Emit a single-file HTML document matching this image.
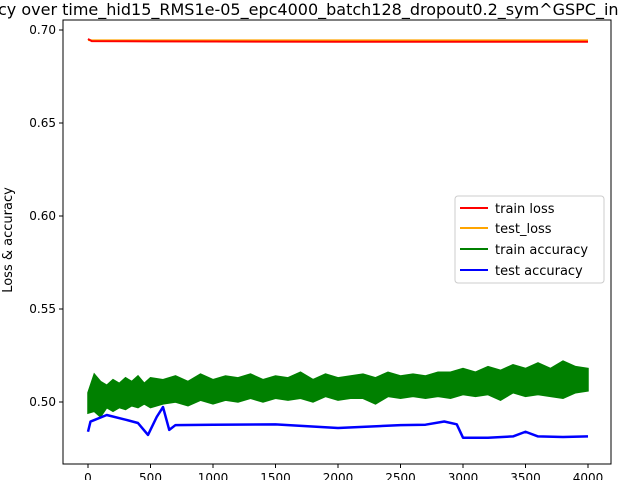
<!DOCTYPE html>
<html><head><meta charset="utf-8"><style>
body{margin:0;background:#fff;}
svg{display:block;font-family:"DejaVu Sans","Liberation Sans",sans-serif;}
</style></head><body>
<svg id="chart" width="640" height="480" viewBox="0 0 640 480" xmlns="http://www.w3.org/2000/svg">
<text x="-2" y="15" font-size="16" fill="#000">cy over time_hid15_RMS1e-05_epc4000_batch128_dropout0.2_sym^GSPC_in</text>
<text transform="translate(12,240) rotate(-90)" text-anchor="middle" font-size="13">Loss &amp; accuracy</text>
<g id="plot"></g>
<rect x="63" y="20" width="548" height="444" fill="none" stroke="#000" stroke-width="1"/>
<g id="axes"></g>
<g>
<rect x="455" y="196" width="149" height="87" rx="3" fill="#fff" fill-opacity="0.8" stroke="#ccc"/>
<line x1="460" y1="208" x2="488" y2="208" stroke="red" stroke-width="2"/><text x="495" y="213" font-size="13">train loss</text>
<line x1="460" y1="228" x2="488" y2="228" stroke="orange" stroke-width="2"/><text x="495" y="233" font-size="13">test_loss</text>
<line x1="460" y1="249" x2="488" y2="249" stroke="green" stroke-width="2"/><text x="495" y="254" font-size="13">train accuracy</text>
<line x1="460" y1="270" x2="488" y2="270" stroke="blue" stroke-width="2"/><text x="495" y="275" font-size="13">test  accuracy</text>
</g>
</svg>
<script>
const xTicks=[0,500,1000,1500,2000,2500,3000,3500,4000];
const yTicks=[0.50,0.55,0.60,0.65,0.70];
const lossEpochs=[0,30,500,1000,2000,3000,4000];
const trainLoss=[0.6952,0.6940,0.6939,0.6938,0.6937,0.6937,0.6937];
const testLoss=[0.6946,0.6944,0.6944,0.6944,0.6944,0.6944,0.6944];
const accEpochs=[0,50,100,150,200,250,300,350,400,450,500,600,700,800,900,1000,1100,1200,1300,1400,1500,1600,1700,1800,1900,2000,2100,2200,2300,2400,2500,2600,2700,2800,2900,3000,3100,3200,3300,3400,3500,3600,3700,3800,3900,4000];
const trainAccHigh=[0.505,0.515,0.511,0.509,0.512,0.510,0.513,0.511,0.514,0.510,0.513,0.512,0.514,0.511,0.515,0.512,0.514,0.513,0.515,0.512,0.514,0.513,0.516,0.512,0.515,0.513,0.514,0.515,0.513,0.516,0.514,0.515,0.514,0.516,0.516,0.518,0.516,0.519,0.517,0.520,0.518,0.521,0.518,0.522,0.519,0.518];
const trainAccLow=[0.494,0.495,0.492,0.497,0.495,0.497,0.496,0.498,0.497,0.499,0.497,0.499,0.500,0.498,0.501,0.499,0.501,0.500,0.502,0.500,0.502,0.501,0.502,0.500,0.503,0.501,0.502,0.502,0.499,0.503,0.502,0.503,0.502,0.503,0.502,0.504,0.503,0.504,0.501,0.505,0.503,0.504,0.503,0.502,0.505,0.506];
const testEpochs=[0,20,50,150,300,400,480,550,600,650,700,1000,1500,2000,2500,2700,2850,2950,3000,3200,3400,3500,3600,3800,4000];
const testAcc=[0.4840,0.4895,0.4903,0.4930,0.4905,0.4887,0.4823,0.4920,0.4973,0.4850,0.4876,0.4878,0.4880,0.4860,0.4876,0.4878,0.4895,0.4880,0.4808,0.4808,0.4815,0.4840,0.4815,0.4812,0.4815];
const X=v=>88+v*0.125, Y=v=>30+(0.70-v)*1860;
const NS='http://www.w3.org/2000/svg';
const plot=document.getElementById('plot'), axes=document.getElementById('axes');
function mk(t,a,p){const e=document.createElementNS(NS,t);for(const k in a)e.setAttribute(k,a[k]);p.appendChild(e);return e;}
const band=accEpochs.map((e,i)=>X(e)+','+Y(trainAccHigh[i])).concat(accEpochs.map((e,i)=>X(e)+','+Y(trainAccLow[i])).reverse());
const g=mk('polygon',{points:band.join(' '),fill:'green',stroke:'green','stroke-width':1.5},plot);


function line(xs,ys,c,w){return mk('polyline',{points:xs.map((e,i)=>X(e)+','+Y(ys[i])).join(' '),fill:'none',stroke:c,'stroke-width':w,'stroke-linejoin':'round'},plot);}
const b=line(testEpochs,testAcc,'blue',2.5);


const o=line(lossEpochs,testLoss,'orange',2);


const r=line(lossEpochs,trainLoss,'red',2);


xTicks.forEach(v=>{mk('line',{x1:X(v),x2:X(v),y1:464,y2:468,stroke:'#000'},axes);
const t=mk('text',{x:X(v),y:482,'text-anchor':'middle','font-size':12},axes);t.textContent=v;

});
yTicks.forEach(v=>{mk('line',{x1:59,x2:63,y1:Y(v),y2:Y(v),stroke:'#000'},axes);
const t=mk('text',{x:56,y:Y(v)+4,'text-anchor':'end','font-size':12},axes);t.textContent=v.toFixed(2);

});
</script>
</body></html>
